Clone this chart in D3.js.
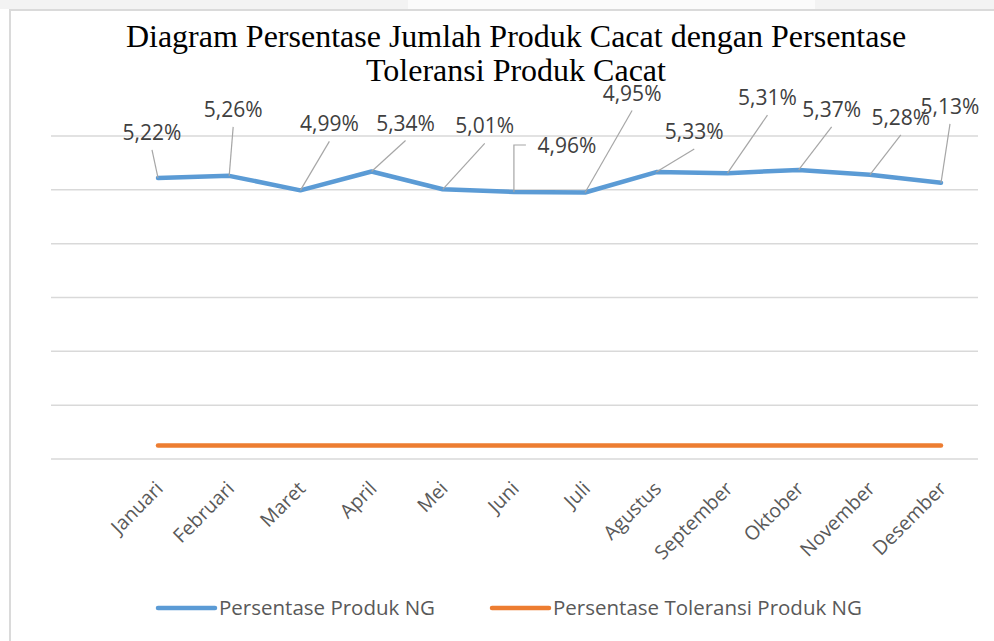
<!DOCTYPE html>
<html>
<head>
<meta charset="utf-8">
<script src="https://cdn.jsdelivr.net/npm/d3@7"></script>
<style>
  body { margin: 0; background: #fff; }
  svg { display: block; }
</style>
</head>
<body>
<svg id="chart" width="994" height="641"></svg>
<script>
// data
var bulan = ["Januari", "Februari", "Maret", "April", "Mei", "Juni", "Juli",
  "Agustus", "September", "Oktober", "November", "Desember"];
var persenNG = [5.22, 5.26, 4.99, 5.34, 5.01, 4.96, 4.95, 5.33, 5.31, 5.37, 5.28, 5.13];
var persenToleransi = [0.25, 0.25, 0.25, 0.25, 0.25, 0.25, 0.25, 0.25, 0.25, 0.25, 0.25, 0.25];
var yTicks = [0, 1, 2, 3, 4, 5, 6];
var judul = ["Diagram Persentase Jumlah Produk Cacat dengan Persentase", "Toleransi Produk Cacat"];
var namaSeri = ["Persentase Produk NG", "Persentase Toleransi Produk NG"];

// where each data label sits relative to its point (like Excel dragged labels)
var labelGeser = [[-6, -38], [4, -59], [29, -59], [34, -41], [42, -56], [53, -39],
  [47, -92], [38, -33], [40, -68], [33, -53], [31, -50], [9, -69]];

var svg = d3.select("#chart");

// outer frame
svg.append("rect").attr("x", 0).attr("y", 0).attr("width", 994).attr("height", 9).attr("fill", "#f3f3f3");
svg.append("rect").attr("x", 408).attr("y", 0).attr("width", 407).attr("height", 9).attr("fill", "#fbfbfb");
svg.append("line").attr("x1", 9).attr("x2", 994).attr("y1", 10).attr("y2", 10)
  .attr("stroke", "#dadada").attr("stroke-width", 2);
svg.append("line").attr("x1", 10).attr("x2", 10).attr("y1", 10).attr("y2", 641)
  .attr("stroke", "#dadada").attr("stroke-width", 2);

var x = d3.scalePoint().domain(bulan).range([158, 941]);
var y = d3.scaleLinear().domain([0, 6]).range([459, 136]);

// gridlines
svg.append("g")
  .selectAll("line")
  .data(yTicks)
  .join("line")
  .attr("x1", 51).attr("x2", 978)
  .attr("y1", function(d) { return y(d); })
  .attr("y2", function(d) { return y(d); })
  .attr("stroke", "#d9d9d9")
  .attr("stroke-width", 1.5);

// x axis labels
var xAxis = d3.axisBottom(x).tickSize(0).tickPadding(0);
var gx = svg.append("g").attr("transform", "translate(0,459)").call(xAxis);
gx.select(".domain").remove();
gx.selectAll("text")
  .attr("font-family", "'Open Sans', sans-serif")
  .attr("font-size", "19.5px")
  .attr("fill", "#595959")
  .attr("text-anchor", "end")
  .attr("dy", "0.35em")
  .attr("transform", "translate(1,26) rotate(-45)");

var garis = d3.line()
  .x(function(d, i) { return x(bulan[i]); })
  .y(function(d) { return y(d); });

svg.append("path")
  .datum(persenToleransi)
  .attr("d", garis)
  .attr("fill", "none")
  .attr("stroke", "#ed7d31")
  .attr("stroke-width", 4.5)
  .attr("stroke-linecap", "round");

svg.append("path")
  .datum(persenNG)
  .attr("d", garis)
  .attr("fill", "none")
  .attr("stroke", "#5b9bd5")
  .attr("stroke-width", 4.5)
  .attr("stroke-linecap", "round")
  .attr("stroke-linejoin", "round");

// data labels with leader lines
var fmt = function(v) { return v.toFixed(2).replace(".", ",") + "%"; };
var lbl = svg.append("g");
for (var i = 0; i < persenNG.length; i++) {
  var px = x(bulan[i]), py = y(persenNG[i]);
  var tx = px + labelGeser[i][0], ty = py + labelGeser[i][1];
  if (i == 5) {
    // Juni: elbow leader
    lbl.append("polyline")
      .attr("points", [[px, py], [px, ty - 8], [tx - 41, ty - 8]].join(" "))
      .attr("fill", "none").attr("stroke", "#a6a6a6").attr("stroke-width", 1.2);
  } else {
    lbl.append("line")
      .attr("x1", px).attr("y1", py)
      .attr("x2", tx).attr("y2", ty + 10)
      .attr("stroke", "#a6a6a6").attr("stroke-width", 1.2);
  }
  lbl.append("text")
    .attr("x", tx).attr("y", ty)
    .attr("text-anchor", "middle")
    .attr("font-family", "'Open Sans', sans-serif")
    .attr("font-size", "21px")
    .attr("fill", "#404040")
    .text(fmt(persenNG[i]));
}

// title
svg.append("g")
  .selectAll("text")
  .data(judul)
  .join("text")
  .attr("x", 516)
  .attr("y", function(d, i) { return 47 + i * 34; })
  .attr("text-anchor", "middle")
  .attr("font-family", "'Liberation Serif', 'Times New Roman', serif")
  .attr("font-size", "32px")
  .attr("fill", "#000")
  .text(function(d) { return d; });

// legend
var warna = ["#5b9bd5", "#ed7d31"];
var legX = [158, 492];
var leg = svg.append("g");
namaSeri.forEach(function(n, k) {
  leg.append("line")
    .attr("x1", legX[k]).attr("x2", legX[k] + 57)
    .attr("y1", 608).attr("y2", 608)
    .attr("stroke", warna[k]).attr("stroke-width", 4.5)
    .attr("stroke-linecap", "round");
  leg.append("text")
    .attr("x", legX[k] + 61).attr("y", 615)
    .attr("font-family", "'Open Sans', sans-serif")
    .attr("font-size", "20.5px")
    .attr("fill", "#595959")
    .text(n);
});
</script>
</body>
</html>
